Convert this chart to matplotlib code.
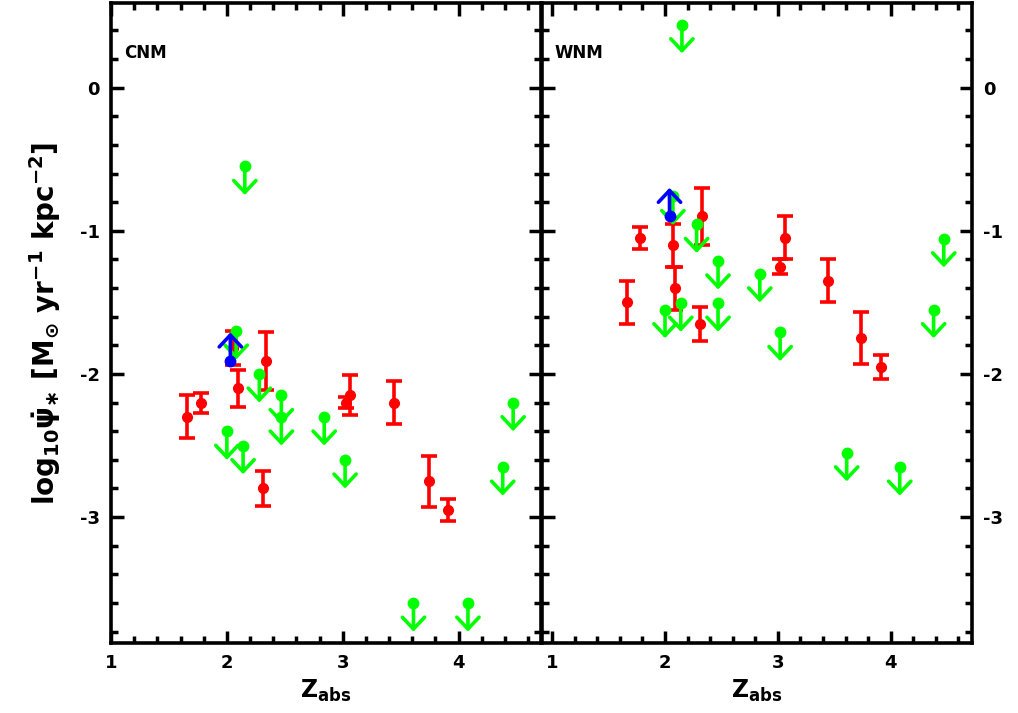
import numpy as np
import matplotlib
matplotlib.use("Agg")
import matplotlib.pyplot as plt
from matplotlib.ticker import MultipleLocator

plt.rcParams['font.family'] = ['DejaVu Sans']
plt.rcParams['font.weight'] = 'bold'
plt.rcParams['mathtext.fontset'] = 'dejavusans'
plt.rcParams['mathtext.default'] = 'bf'
plt.rcParams['axes.unicode_minus'] = False

# CNM panel
cnm_z = [1.66, 1.78, 2.05, 2.10, 2.34, 2.31, 3.03, 3.06, 3.44, 3.74, 3.91]
cnm_sfr = [-2.30, -2.20, -1.82, -2.10, -1.91, -2.80, -2.20, -2.15, -2.20, -2.75, -2.95]
cnm_err = [0.15, 0.07, 0.12, 0.13, 0.20, 0.12, 0.04, 0.14, 0.15, 0.18, 0.08]
cnm_ul_z = [2.155, 2.08, 2.28, 2.47, 2.47, 2.00, 2.14, 2.84, 3.02, 3.61, 4.08, 4.47, 4.38]
cnm_ul_sfr = [-0.55, -1.70, -2.00, -2.15, -2.30, -2.40, -2.50, -2.30, -2.60, -3.60, -3.60, -2.20, -2.65]
cnm_ll_z = [2.03]
cnm_ll_sfr = [-1.91]

# WNM panel
wnm_z = [1.66, 1.78, 2.07, 2.09, 2.33, 2.31, 3.02, 3.06, 3.44, 3.74, 3.91]
wnm_sfr = [-1.50, -1.05, -1.10, -1.40, -0.90, -1.65, -1.25, -1.05, -1.35, -1.75, -1.95]
wnm_err = [0.15, 0.075, 0.15, 0.15, 0.20, 0.12, 0.05, 0.15, 0.15, 0.18, 0.085]
wnm_ul_z = [2.15, 2.07, 2.28, 2.47, 2.84, 2.00, 2.14, 2.47, 3.02, 4.47, 4.38, 3.61, 4.08]
wnm_ul_sfr = [0.44, -0.76, -0.955, -1.21, -1.30, -1.55, -1.505, -1.505, -1.71, -1.055, -1.55, -2.55, -2.65]
wnm_ll_z = [2.04]
wnm_ll_sfr = [-0.90]

ARROW = 0.2
RED, GREEN, BLUE = '#ff0000', '#00ff00', '#0000ff'


def draw_limits(ax, z, sfr, color, direction):
    ax.plot(z, sfr, 'o', color=color, ms=7.5, zorder=3)
    for x, y in zip(z, sfr):
        ax.annotate('', xy=(x, y + direction * ARROW), xytext=(x, y),
                    arrowprops=dict(arrowstyle='->, head_width=0.8, head_length=0.85',
                                    color=color, lw=2.6, mutation_scale=10,
                                    shrinkA=0, shrinkB=0),
                    zorder=3)


def draw_panel(ax, z, sfr, err, ul_z, ul_sfr, ll_z, ll_sfr, label, xlim):
    ax.errorbar(z, sfr, yerr=err, fmt='o', color=RED, ms=7, elinewidth=2.6,
                capsize=6, capthick=2.6, zorder=2)
    draw_limits(ax, ul_z, ul_sfr, GREEN, -1)
    draw_limits(ax, ll_z, ll_sfr, BLUE, 1)
    ax.set_xlim(*xlim)
    ax.set_ylim(-3.88, 0.59)
    ax.xaxis.set_major_locator(MultipleLocator(1))
    ax.xaxis.set_minor_locator(MultipleLocator(0.2))
    ax.yaxis.set_major_locator(MultipleLocator(1))
    ax.yaxis.set_minor_locator(MultipleLocator(0.2))
    ax.tick_params(which='both', direction='in', top=True, right=True, width=2.5)
    ax.tick_params(which='major', length=9, labelsize=13, pad=8)
    ax.tick_params(which='minor', length=5)
    for s in ax.spines.values():
        s.set_linewidth(2.6)
    for t in ax.get_xticklabels() + ax.get_yticklabels():
        t.set_fontweight('bold')
    ax.set_xlabel(r'$Z_{abs}$', fontsize=17, labelpad=4)
    ax.text(0.03, 0.915, label, transform=ax.transAxes, fontsize=12,
            fontweight='bold')


fig = plt.figure(figsize=(10.18, 7.13), dpi=100)
ax1 = fig.add_axes([0.109, 0.098, 0.4224, 0.8976])
ax2 = fig.add_axes([0.5324, 0.098, 0.4224, 0.8976])

draw_panel(ax1, cnm_z, cnm_sfr, cnm_err, cnm_ul_z, cnm_ul_sfr,
           cnm_ll_z, cnm_ll_sfr, 'CNM', (1.0, 4.71))
draw_panel(ax2, wnm_z, wnm_sfr, wnm_err, wnm_ul_z, wnm_ul_sfr,
           wnm_ll_z, wnm_ll_sfr, 'WNM', (0.91, 4.72))

ax1.tick_params(axis='y', labelleft=True, labelright=False)
ax2.tick_params(axis='y', labelleft=False, labelright=True)
ax1.set_ylabel(r'$log_{10}\dot{\psi}_{\ast}\ [M_{\odot}\ yr^{-1}\ kpc^{-2}]$',
               fontsize=20, labelpad=12)

fig.savefig('out.png', dpi=100)
